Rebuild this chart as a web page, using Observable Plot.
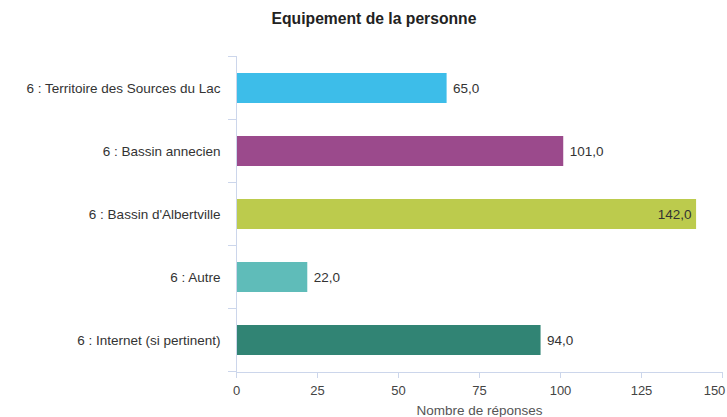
<!DOCTYPE html>
<html>
<head>
<meta charset="utf-8">
<script src="https://cdn.jsdelivr.net/npm/d3@7"></script>
<script src="https://cdn.jsdelivr.net/npm/@observablehq/plot@0.6"></script>
<style>
  html, body { margin: 0; padding: 0; background: #fff; }
  body { width: 727px; height: 417px; overflow: hidden; font-family: "Liberation Sans", Arial, sans-serif; position: relative; }
  #title { position: absolute; top: 0; left: 374px; transform: translateX(-50%); white-space: nowrap;
           font-weight: bold; font-size: 15.7px; line-height: 15.7px; padding-top: 11px; color: #222; }
  #chart { position: absolute; top: 40px; left: 0; }
</style>
</head>
<body>
<div id="title">Equipement de la personne</div>
<div id="chart"></div>
<script>
// Data
const categories = [
  "6 : Territoire des Sources du Lac",
  "6 : Bassin annecien",
  "6 : Bassin d'Albertville",
  "6 : Autre",
  "6 : Internet (si pertinent)"
];
const values = [65, 101, 142, 22, 94];
const colors = ["#3dbde9", "#9b4a8c", "#bccb4d", "#5fbcb9", "#318474"];
const xTicks = [0, 25, 50, 75, 100, 125, 150];
const xLabel = "Nombre de réponses";

const data = categories.map((c, i) => ({category: c, value: values[i]}));
const xMax = 150;
const axisColor = "#ccd6eb";
const fmt = v => d3.format(".1f")(v).replace(".", ",");

const chart = Plot.plot({
  width: 727,
  height: 377,
  marginTop: 16,
  marginBottom: 45,
  marginLeft: 236,
  marginRight: 5,
  style: {fontFamily: "'Liberation Sans', Arial, sans-serif", background: "#fff", overflow: "visible"},
  x: {domain: [0, xMax], axis: null},
  y: {domain: categories, paddingInner: 0.52, paddingOuter: 0.26, axis: null},
  color: {domain: categories, range: colors},
  marks: [
    Plot.barX(data, {x: "value", y: "category", fill: "category"}),
    Plot.ruleX([0], {stroke: axisColor}),
    Plot.frame({anchor: "bottom", stroke: axisColor}),
    Plot.axisY({tickSize: 0, tickPadding: 16, fontSize: 13.5, color: "#333", label: null}),
    Plot.axisX({ticks: xTicks, tickSize: 6, tickPadding: 7, fontSize: 13, color: "#444", stroke: axisColor,
                tickFormat: d => d === xMax ? "" : d, label: null}),
    Plot.axisX({ticks: [xMax], tickSize: 0, tickPadding: 13, dx: -8, fontSize: 13, color: "#444", label: null}),
    Plot.text([xLabel], {frameAnchor: "bottom", dy: 42, fontSize: 13.5, fill: "#555", lineAnchor: "bottom"}),
    Plot.text(data.filter(d => d.value <= xMax - 12), {x: "value", y: "category", text: d => fmt(d.value),
      textAnchor: "start", dx: 6, fontSize: 13.5, fill: "#333"}),
    Plot.text(data.filter(d => d.value > xMax - 12), {x: "value", y: "category", text: d => fmt(d.value),
      textAnchor: "end", dx: -5, fontSize: 13.5, fill: "#333"})
  ]
});

// Category boundary ticks on the left axis, placed with Plot's own y scale
const ys = chart.scale("y");
const xs = chart.scale("x");
const bw = ys.bandwidth;
const step = ys.step;
const half = (step - bw) / 2;
const starts = categories.map(c => ys.apply(c));
const edges = starts.map(p => p - half).concat([starts[starts.length - 1] + bw + half]);
const x0 = xs.apply(0);
d3.select(chart).append("g")
  .selectAll("line").data(edges).join("line")
  .attr("x1", x0 - 8).attr("x2", x0)
  .attr("y1", d => d).attr("y2", d => d)
  .attr("stroke", axisColor);

document.getElementById("chart").appendChild(chart);
</script>
</body>
</html>
